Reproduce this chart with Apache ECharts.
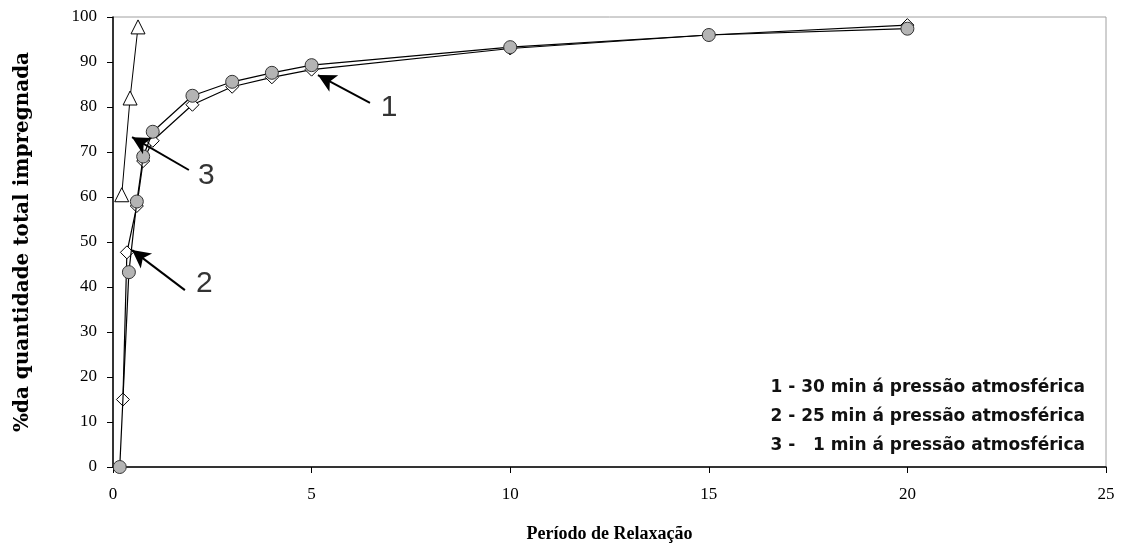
<!DOCTYPE html>
<html><head><meta charset="utf-8">
<script src="https://cdn.jsdelivr.net/npm/echarts@6/dist/echarts.min.js"></script>
<style>html,body{margin:0;padding:0;background:#fff}#c{width:1121px;height:556px}</style>
</head><body><div id="c"></div>
<script>
// Data
const xTicks = [0, 5, 10, 15, 20, 25];
const yTicks = [0, 10, 20, 30, 40, 50, 60, 70, 80, 90, 100];
const s1x = [0.17, 0.4, 0.6, 0.76, 1, 2, 3, 4, 5, 10, 15, 20];
const s1y = [0, 43.3, 59, 69, 74.5, 82.5, 85.6, 87.6, 89.3, 93.3, 96, 97.4];
const s2x = [0.25, 0.35, 0.6, 0.76, 1, 2, 3, 4, 5, 10, 15, 20];
const s2y = [15, 47.7, 58, 68, 72.5, 80.5, 84.5, 86.6, 88.3, 93, 96, 98.2];
const s3x = [0.22, 0.43, 0.63];
const s3y = [60.5, 82, 97.8];
const legendLines = ['1 - 30 min á pressão atmosférica', '2 - 25 min á pressão atmosférica', '3 -   1 min á pressão atmosférica'];
const annoLabels = ['1', '2', '3'];
const annoFrom = [[6.47, 80.9], [1.81, 39.3], [1.91, 66]];
const annoTip = [[5.16, 87.1], [0.48, 48.2], [0.48, 73.3]];
const annoText = [[6.95, 79.8], [2.3, 40.8], [2.35, 64.8]];

const zip = (a, b) => a.map((v, i) => [v, b[i]]);
const chart = echarts.init(document.getElementById('c'), null, {renderer: 'canvas'});
const serif = 'Liberation Serif';
chart.setOption({
  animation: false,
  grid: {left: 113, right: 15, top: 17, bottom: 89, show: true, borderColor: '#a0a0a0', borderWidth: 1},
  xAxis: {
    type: 'value', min: 0, max: 25, interval: 5,
    name: 'Período de Relaxação', nameLocation: 'middle', nameGap: 58,
    nameTextStyle: {fontFamily: serif, fontWeight: 'bold', fontSize: 18, color: '#000'},
    axisLine: {lineStyle: {color: '#000', width: 1.5}},
    axisTick: {show: true, length: 6, lineStyle: {color: '#000'}},
    axisLabel: {fontFamily: serif, fontSize: 17, color: '#000', margin: 19},
    splitLine: {show: false}
  },
  yAxis: {
    type: 'value', min: 0, max: 100, interval: 10,
    name: '%da quantidade total impregnada', nameLocation: 'middle', nameGap: 80,
    nameTextStyle: {fontFamily: 'DejaVu Serif', fontWeight: 'bold', fontSize: 20, color: '#000'},
    axisLine: {lineStyle: {color: '#000', width: 1.5}},
    axisTick: {show: true, length: 6, lineStyle: {color: '#000'}},
    axisLabel: {fontFamily: serif, fontSize: 17, color: '#000', margin: 16},
    splitLine: {show: false}
  },
  graphic: [{
    type: 'group', right: 36, top: 379,
    children: legendLines.map((t, i) => ({
      type: 'text', right: 0, top: i * 29,
      style: {text: t, fontFamily: 'DejaVu Sans', fontWeight: 'bold', fontSize: 17, fill: '#111', textAlign: 'right'}
    }))
  }],
  series: [
    {type: 'line', name: '3', data: zip(s3x, s3y), symbol: 'triangle', symbolSize: 14,
     lineStyle: {color: '#000', width: 1}, itemStyle: {color: '#fff', borderColor: '#000', borderWidth: 1}, z: 2},
    {type: 'line', name: '2', data: zip(s2x, s2y), symbol: 'diamond', symbolSize: 13,
     lineStyle: {color: '#000', width: 1.2}, itemStyle: {color: '#fff', borderColor: '#000', borderWidth: 1}, z: 3},
    {type: 'line', name: '1', data: zip(s1x, s1y), symbol: 'circle', symbolSize: 13,
     lineStyle: {color: '#000', width: 1.2}, itemStyle: {color: '#b4b4b4', borderColor: '#333', borderWidth: 1}, z: 4},
    {type: 'scatter', name: 'anno', data: annoText.map((p, i) => ({value: p, label: {show: true, formatter: annoLabels[i]}})),
     symbolSize: 0, z: 5, silent: true,
     label: {position: 'inside', fontFamily: 'Liberation Sans', fontSize: 30, color: '#000'},
     markLine: {silent: true, symbol: ['none', 'arrow'], symbolSize: [14, 18], label: {show: false},
       lineStyle: {color: '#000', width: 2, type: 'solid'},
       data: annoFrom.map((p, i) => [{coord: p}, {coord: annoTip[i]}])}
    }
  ]
});
</script></body></html>
